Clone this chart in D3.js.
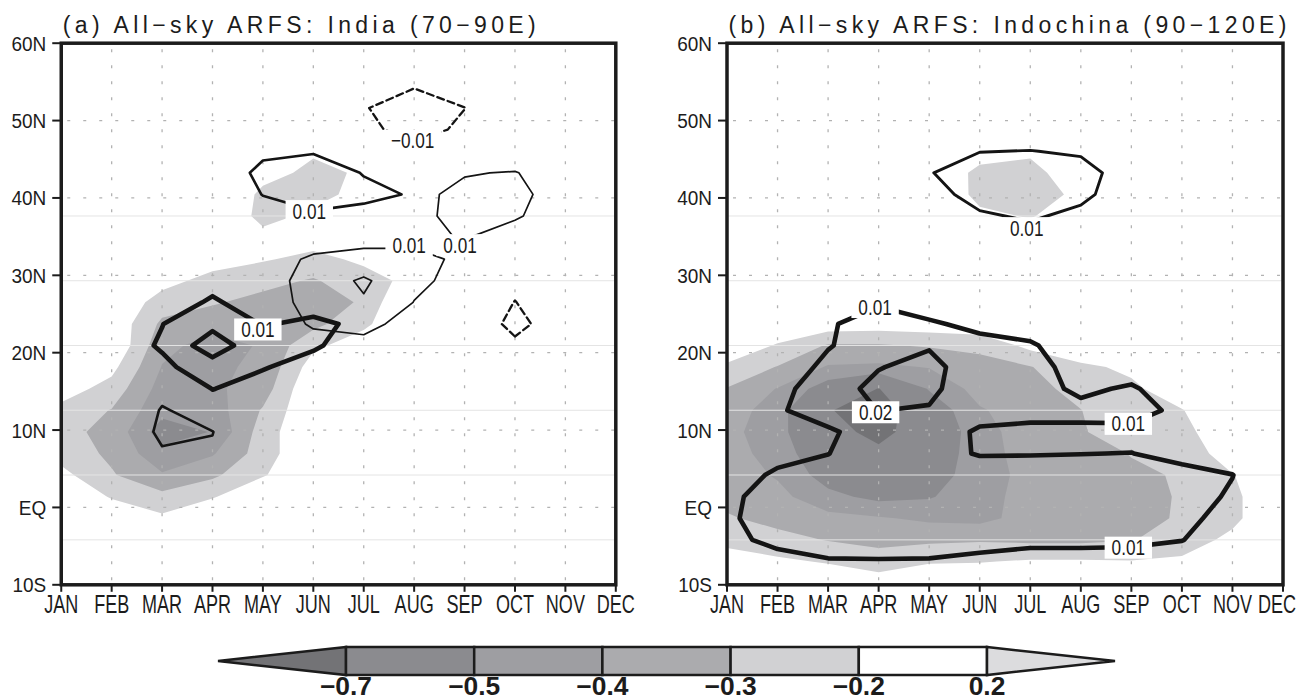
<!DOCTYPE html>
<html>
<head>
<meta charset="utf-8">
<title>All-sky ARFS</title>
<script src="https://cdn.jsdelivr.net/npm/d3@7"></script>
<style>
  body { margin: 0; background: #fff; }
  svg { display: block; }
  text { font-family: "Liberation Sans", "DejaVu Sans", sans-serif; fill: #1c1c1c; }
  .frame { fill: none; stroke: #1c1c1c; stroke-width: 3.5px; }
  .tick { stroke: #1c1c1c; stroke-width: 2px; }
  .dots { stroke: #b2b2b2; stroke-width: 1.3px; stroke-dasharray: 3 13; }
  .faint { stroke: #e4e4e4; stroke-width: 1px; }
  .cline { fill: none; stroke: #141414; stroke-linejoin: round; stroke-linecap: round; }
  .cbar { stroke: #1c1c1c; stroke-width: 2.5px; stroke-linejoin: miter; }
</style>
</head>
<body>
<script>
// ---- data ----
var months = ['JAN','FEB','MAR','APR','MAY','JUN','JUL','AUG','SEP','OCT','NOV','DEC'];
// grid latitudes, north to south (rows of every grid below)
var lats = [59.99, 57.20, 54.41, 51.62, 48.83, 46.04, 43.25, 40.46, 37.67, 34.88, 32.09, 29.30, 26.51,
            23.72, 20.93, 18.14, 15.35, 12.56, 9.77, 6.98, 4.19, 1.40, -1.40, -4.19, -6.98, -9.77];
var latTicks = [-10, 0, 10, 20, 30, 40, 50, 60];
var latTickLabels = ['10S', 'EQ', '10N', '20N', '30N', '40N', '50N', '60N'];
var faintLats = [37.67, 29.30, 20.93, 12.56, 4.19, -4.19];
var shadeLevels = [-0.7, -0.5, -0.4, -0.3, -0.2, 0.2];
var shadeColors = ['#737376', '#8b8b8f', '#9e9ea2', '#ababae', '#d1d1d3', '#ffffff', '#dcdcde'];
var lineLevels = [-1, 1, 2];   // contour field in units of 0.01
var titles = ['(a) All\u2212sky ARFS: India (70\u221290E)', '(b) All\u2212sky ARFS: Indochina (90\u2212120E)'];

// shaded field, panel a
var shadeA = [
  [-.1,-.1,-.1,-.1,-.1,-.1,-.1,-.1,-.1,-.1,-.1,-.1],
  [-.1,-.1,-.1,-.1,-.1,-.1,-.1,-.1,-.1,-.1,-.1,-.1],
  [-.1,-.1,-.1,-.1,-.1,-.1,-.1,-.1,-.1,-.1,-.1,-.1],
  [-.1,-.1,-.1,-.1,-.1,-.1,-.1,-.1,-.1,-.1,-.1,-.1],
  [-.1,-.1,-.1,-.1,-.1,-.1,-.1,-.1,-.1,-.1,-.1,-.1],
  [-.1,-.1,-.1,-.1,-.1,-.19,-.12,-.1,-.1,-.1,-.1,-.1],
  [-.1,-.1,-.1,-.1,-.17,-.22,-.19,-.1,-.1,-.1,-.1,-.1],
  [-.1,-.1,-.1,-.1,-.22,-.23,-.17,-.1,-.1,-.1,-.1,-.1],
  [-.1,-.1,-.1,-.1,-.23,-.18,-.1,-.1,-.1,-.1,-.1,-.1],
  [-.1,-.1,-.1,-.1,-.17,-.15,-.1,-.1,-.1,-.1,-.1,-.1],
  [-.1,-.1,-.1,-.15,-.19,-.23,-.18,-.13,-.1,-.1,-.1,-.1],
  [-.1,-.1,-.16,-.24,-.27,-.31,-.24,-.17,-.1,-.1,-.1,-.1],
  [-.1,-.1,-.25,-.29,-.33,-.36,-.285,-.05,-.1,-.1,-.1,-.1],
  [-.1,-.12,-.32,-.36,-.38,-.33,-.22,-.1,-.1,-.1,-.1,-.1],
  [-.1,-.1,-.37,-.44,-.39,-.22,-.15,-.1,-.1,-.1,-.1,-.1],
  [-.1,-.17,-.405,-.42,-.38,-.15,-.1,-.1,-.1,-.1,-.1,-.1],
  [-.15,-.24,-.44,-.42,-.35,-.1,-.1,-.1,-.1,-.1,-.1,-.1],
  [-.23,-.305,-.47,-.45,-.29,-.1,-.1,-.1,-.1,-.1,-.1,-.1],
  [-.27,-.33,-.55,-.495,-.25,-.1,-.1,-.1,-.1,-.1,-.1,-.1],
  [-.24,-.32,-.47,-.41,-.25,-.1,-.1,-.1,-.1,-.1,-.1,-.1],
  [-.17,-.29,-.39,-.32,-.21,-.1,-.1,-.1,-.1,-.1,-.1,-.1],
  [-.1,-.21,-.27,-.21,-.1,-.1,-.1,-.1,-.1,-.1,-.1,-.1],
  [-.1,-.12,-.18,-.1,-.1,-.1,-.1,-.1,-.1,-.1,-.1,-.1],
  [-.1,-.1,-.1,-.1,-.1,-.1,-.1,-.1,-.1,-.1,-.1,-.1],
  [-.1,-.1,-.1,-.1,-.1,-.1,-.1,-.1,-.1,-.1,-.1,-.1],
  [-.1,-.1,-.1,-.1,-.1,-.1,-.1,-.1,-.1,-.1,-.1,-.1]
];

// shaded field, panel b
var shadeB = [
  [-.1,-.1,-.1,-.1,-.1,-.1,-.1,-.1,-.1,-.1,-.1,-.1],
  [-.1,-.1,-.1,-.1,-.1,-.1,-.1,-.1,-.1,-.1,-.1,-.1],
  [-.1,-.1,-.1,-.1,-.1,-.1,-.1,-.1,-.1,-.1,-.1,-.1],
  [-.1,-.1,-.1,-.1,-.1,-.1,-.1,-.1,-.1,-.1,-.1,-.1],
  [-.1,-.1,-.1,-.1,-.1,-.1,-.1,-.1,-.1,-.1,-.1,-.1],
  [-.1,-.1,-.1,-.1,-.1,-.15,-.18,-.1,-.1,-.1,-.1,-.1],
  [-.1,-.1,-.1,-.1,-.1,-.23,-.24,-.12,-.1,-.1,-.1,-.1],
  [-.1,-.1,-.1,-.1,-.06,-.24,-.26,-.17,-.1,-.1,-.1,-.1],
  [-.1,-.1,-.1,-.1,-.1,-.17,-.21,-.12,-.1,-.1,-.1,-.1],
  [-.1,-.1,-.1,-.1,-.1,-.1,-.12,-.1,-.1,-.1,-.1,-.1],
  [-.1,-.1,-.1,-.1,-.1,-.1,-.1,-.1,-.1,-.1,-.1,-.1],
  [-.1,-.1,-.1,-.1,-.1,-.1,-.1,-.1,-.1,-.1,-.1,-.1],
  [-.1,-.1,-.1,-.1,-.1,-.1,-.1,-.1,-.1,-.1,-.1,-.1],
  [-.1,-.12,-.14,-.15,-.14,-.12,-.08,-.1,-.1,-.1,-.1,-.1],
  [-.12,-.21,-.31,-.31,-.29,-.28,-.17,-.12,-.1,-.1,-.1,-.1],
  [-.22,-.305,-.41,-.42,-.395,-.33,-.305,-.22,-.18,-.1,-.1,-.1],
  [-.305,-.405,-.56,-.705,-.49,-.36,-.33,-.27,-.22,-.14,-.1,-.1],
  [-.35,-.45,-.69,-.78,-.58,-.41,-.35,-.302,-.23,-.205,-.1,-.1],
  [-.37,-.46,-.65,-.74,-.62,-.43,-.36,-.31,-.24,-.24,-.1,-.1],
  [-.36,-.44,-.60,-.67,-.60,-.43,-.37,-.35,-.295,-.27,-.14,-.1],
  [-.35,-.41,-.55,-.62,-.57,-.43,-.38,-.36,-.32,-.29,-.205,-.1],
  [-.33,-.37,-.47,-.53,-.51,-.43,-.37,-.36,-.34,-.29,-.23,-.08],
  [-.29,-.33,-.37,-.39,-.42,-.43,-.36,-.35,-.33,-.29,-.23,-.08],
  [-.23,-.27,-.305,-.33,-.32,-.31,-.32,-.32,-.305,-.26,-.17,-.1],
  [-.15,-.18,-.21,-.25,-.21,-.205,-.19,-.19,-.195,-.18,-.1,-.1],
  [-.1,-.12,-.12,-.15,-.12,-.12,-.1,-.1,-.1,-.1,-.1,-.1]
];

// contoured fields (x0.01): thin, medium and thick lines of panel a
var thinA = [
  [0,0,0,0,0,0,0,0,0,0,0,0],
  [0,0,0,0,0,0,0,0,0,0,0,0],
  [0,0,0,0,0,0,0,0,0,0,0,0],
  [0,0,0,0,0,0,0,0,0,0,0,0],
  [0,0,0,0,0,0,0,0,0,0,0,0],
  [0,0,0,0,0,0,0,0,.3,.3,0,0],
  [0,0,0,0,0,0,0,.3,.95,1.05,.4,0],
  [0,0,0,0,0,0,0,.8,1.2,1.15,.73,0],
  [0,0,0,0,0,0,0,.75,1.3,1.1,.5,0],
  [0,0,0,0,0,.5,.7,.85,1.04,.6,0,0],
  [0,0,0,0,.55,1.15,1.3,1.15,.9,0,0,0],
  [0,0,0,0,.55,1.4,2.15,1.2,.7,0,0,0],
  [0,0,0,0,.4,1.4,1.9,.98,.3,0,0,0],
  [0,0,0,0,.2,1.15,1.3,.6,0,0,0,0],
  [0,0,0,0,0,.5,.7,0,0,0,0,0],
  [0,0,0,0,0,0,0,0,0,0,0,0],
  [0,0,0,0,0,0,0,0,0,0,0,0],
  [0,0,0,0,0,0,0,0,0,0,0,0],
  [0,0,0,0,0,0,0,0,0,0,0,0],
  [0,0,0,0,0,0,0,0,0,0,0,0],
  [0,0,0,0,0,0,0,0,0,0,0,0],
  [0,0,0,0,0,0,0,0,0,0,0,0],
  [0,0,0,0,0,0,0,0,0,0,0,0],
  [0,0,0,0,0,0,0,0,0,0,0,0],
  [0,0,0,0,0,0,0,0,0,0,0,0],
  [0,0,0,0,0,0,0,0,0,0,0,0]
];
var midA = [
  [0,0,0,0,0,0,0,0,0,0,0,0],
  [0,0,0,0,0,0,0,0,0,0,0,0],
  [0,0,0,0,0,0,0,-.95,-.7,0,0,0],
  [0,0,0,0,0,0,-.94,-1.5,-1.01,-.5,0,0],
  [0,0,0,0,0,0,-.8,-1.3,-.85,0,0,0],
  [0,0,0,0,.85,.95,.6,-.68,0,0,0,0],
  [0,0,0,.43,1.2,1.35,.97,.6,0,0,0,0],
  [0,0,0,.4,1.02,1.3,1.15,.95,0,0,0,0],
  [0,0,0,0,.7,.9,.8,.6,0,0,0,0],
  [0,0,0,0,0,0,0,0,0,0,0,0],
  [0,0,0,0,0,0,0,0,0,0,0,0],
  [0,0,0,0,0,0,0,0,0,-.8,0,0],
  [0,0,0,0,0,0,0,0,-.3,-1.02,-.4,0],
  [0,0,0,0,0,0,0,0,-.3,-1.25,-.47,0],
  [0,0,0,0,0,0,0,0,0,-.82,0,0],
  [0,0,0,0,0,0,0,0,0,0,0,0],
  [0,0,.6,0,0,0,0,0,0,0,0,0],
  [0,-.5,1.1,.5,0,0,0,0,0,0,0,0],
  [0,-.9,1.4,1.02,0,0,0,0,0,0,0,0],
  [0,-.5,.8,.9,0,0,0,0,0,0,0,0],
  [0,0,0,0,0,0,0,0,0,0,0,0],
  [0,0,0,0,0,0,0,0,0,0,0,0],
  [0,0,0,0,0,0,0,0,0,0,0,0],
  [0,0,0,0,0,0,0,0,0,0,0,0],
  [0,0,0,0,0,0,0,0,0,0,0,0],
  [0,0,0,0,0,0,0,0,0,0,0,0]
];
var thickA = [
  [0,0,0,0,0,0,0,0,0,0,0,0],
  [0,0,0,0,0,0,0,0,0,0,0,0],
  [0,0,0,0,0,0,0,0,0,0,0,0],
  [0,0,0,0,0,0,0,0,0,0,0,0],
  [0,0,0,0,0,0,0,0,0,0,0,0],
  [0,0,0,0,0,0,0,0,0,0,0,0],
  [0,0,0,0,0,0,0,0,0,0,0,0],
  [0,0,0,0,0,0,0,0,0,0,0,0],
  [0,0,0,0,0,0,0,0,0,0,0,0],
  [0,0,0,0,0,0,0,0,0,0,0,0],
  [0,0,0,0,0,0,0,0,0,0,0,0],
  [0,0,0,.75,0,0,0,0,0,0,0,0],
  [0,0,.6,1.1,.6,.7,0,0,0,0,0,0],
  [0,0,.98,1.7,.95,1.15,.85,0,0,0,0,0],
  [0,.5,1.1,2.6,1.2,1.1,.6,0,0,0,0,0],
  [0,0,.8,1.5,1.05,.7,0,0,0,0,0,0],
  [0,0,0,1.02,.7,0,0,0,0,0,0,0],
  [0,0,0,.6,0,0,0,0,0,0,0,0],
  [0,0,0,0,0,0,0,0,0,0,0,0],
  [0,0,0,0,0,0,0,0,0,0,0,0],
  [0,0,0,0,0,0,0,0,0,0,0,0],
  [0,0,0,0,0,0,0,0,0,0,0,0],
  [0,0,0,0,0,0,0,0,0,0,0,0],
  [0,0,0,0,0,0,0,0,0,0,0,0],
  [0,0,0,0,0,0,0,0,0,0,0,0],
  [0,0,0,0,0,0,0,0,0,0,0,0]
];

// contoured fields (x0.01): medium and thick lines of panel b
var midB = [
  [0,0,0,0,0,0,0,0,0,0,0,0],
  [0,0,0,0,0,0,0,0,0,0,0,0],
  [0,0,0,0,0,0,0,0,0,0,0,0],
  [0,0,0,0,0,0,0,0,0,0,0,0],
  [0,0,0,0,0,0,.5,0,0,0,0,0],
  [0,0,0,0,.5,.98,1.02,.9,0,0,0,0],
  [0,0,0,0,.96,1.4,1.5,1.3,.6,0,0,0],
  [0,0,0,0,.7,1.3,1.5,1.2,.5,0,0,0],
  [0,0,0,0,0,.9,1.1,.8,0,0,0,0],
  [0,0,0,0,0,0,.7,0,0,0,0,0],
  [0,0,0,0,0,0,0,0,0,0,0,0],
  [0,0,0,0,0,0,0,0,0,0,0,0],
  [0,0,0,0,0,0,0,0,0,0,0,0],
  [0,0,0,0,0,0,0,0,0,0,0,0],
  [0,0,0,0,0,0,0,0,0,0,0,0],
  [0,0,0,0,0,0,0,0,0,0,0,0],
  [0,0,0,0,0,0,0,0,0,0,0,0],
  [0,0,0,0,0,0,0,0,0,0,0,0],
  [0,0,0,0,0,0,0,0,0,0,0,0],
  [0,0,0,0,0,0,0,0,0,0,0,0],
  [0,0,0,0,0,0,0,0,0,0,0,0],
  [0,0,0,0,0,0,0,0,0,0,0,0],
  [0,0,0,0,0,0,0,0,0,0,0,0],
  [0,0,0,0,0,0,0,0,0,0,0,0],
  [0,0,0,0,0,0,0,0,0,0,0,0],
  [0,0,0,0,0,0,0,0,0,0,0,0]
];
var thickB = [
  [0,0,0,0,0,0,0,0,0,0,0,0],
  [0,0,0,0,0,0,0,0,0,0,0,0],
  [0,0,0,0,0,0,0,0,0,0,0,0],
  [0,0,0,0,0,0,0,0,0,0,0,0],
  [0,0,0,0,0,0,0,0,0,0,0,0],
  [0,0,0,0,0,0,0,0,0,0,0,0],
  [0,0,0,0,0,0,0,0,0,0,0,0],
  [0,0,0,0,0,0,0,0,0,0,0,0],
  [0,0,0,0,0,0,0,0,0,0,0,0],
  [0,0,0,0,0,0,0,0,0,0,0,0],
  [0,0,0,0,0,0,0,0,0,0,0,0],
  [0,0,0,.4,0,0,0,0,0,0,0,0],
  [0,0,.3,.85,.6,.4,0,0,0,0,0,0],
  [0,0,.85,1.6,1.1,.8,.6,0,0,0,0,0],
  [0,0,.9,1.8,1.9,1.25,1.1,.5,0,0,0,0],
  [0,0,1.4,1.95,2.35,1.3,1.25,.73,.6,0,0,0],
  [0,.73,1.5,2.3,2.3,1.1,1.3,.85,1.1,.5,0,0],
  [0,.88,1.5,2.02,1.9,1.15,1.2,1.2,1.3,.8,0,0],
  [0,.6,.85,1.5,1.2,.95,.85,.85,.8,.6,0,0],
  [.5,.8,.98,1.6,1.2,.96,.98,.99,1.01,.8,.7,0],
  [.7,1.1,1.4,1.7,1.5,1.3,1.2,1.25,1.2,1.2,1.01,.5],
  [.85,1.3,1.45,1.7,1.55,1.3,1.3,1.3,1.25,1.2,.94,.4],
  [.9,1.3,1.45,1.6,1.5,1.3,1.3,1.3,1.25,1.15,.79,.3],
  [.85,1.15,1.3,1.4,1.3,1.15,1.15,1.15,1.1,1.02,.6,0],
  [.6,.8,.95,.95,.95,.9,.75,.75,.8,.6,.4,0],
  [0,0,.5,.6,.6,.5,.5,.5,.5,0,0,0]
];

// contour labels: panel, month index, latitude, level (x0.01)
var contourLabels = [
  {panel: 0, month: 4.92, lat: 38.3, level: 1},
  {panel: 0, month: 6.97, lat: 47.4, level: -1},
  {panel: 0, month: 6.90, lat: 33.9, level: 1},
  {panel: 0, month: 7.91, lat: 33.9, level: 1},
  {panel: 0, month: 3.90, lat: 23.0, level: 1},
  {panel: 1, month: 5.93, lat: 36.1, level: 1},
  {panel: 1, month: 2.93, lat: 25.9, level: 1},
  {panel: 1, month: 2.94, lat: 12.3, level: 2},
  {panel: 1, month: 7.94, lat: 10.8, level: 1},
  {panel: 1, month: 7.94, lat: -5.2, level: 1}
];

// ---- drawing ----
var W = 1299, H = 700;
var svg = d3.select('body').append('svg').attr('width', W).attr('height', H);
var y = d3.scaleLinear().domain([-10, 60]).range([584.8, 43.2]);
var latAt = d3.scaleLinear().domain([0, lats.length - 1]).range([lats[0], lats[lats.length - 1]]);
var fmtLine = d3.format('.2f'), fmtBar = d3.format('.1f');
var nx = months.length, ny = lats.length;

// text squeezed like the narrow plotting font of the original
function narrow(sel, str, px, py, size, sx, sy, anchor) {
  return sel.append('text')
    .attr('transform', 'translate(' + px + ',' + py + ') scale(' + sx + ',' + sy + ')')
    .attr('text-anchor', anchor).attr('font-size', size).text(str);
}

var panels = [
  {title: titles[0], x0: 61.25, x1: 615.8, titleLen: 473, shade: shadeA,
   lines: [[thinA, 1.7], [midA, 2.6], [thickA, 4.6]]},
  {title: titles[1], x0: 727, x1: 1283, titleLen: 558, shade: shadeB,
   lines: [[midB, 2.9], [thickB, 4.6]]}
];

panels.forEach(function(p, pi) {
  var x = d3.scaleLinear().domain([0, nx - 1]).range([p.x0, p.x1]);
  var proj = d3.geoTransform({point: function(gx, gy) {
    this.stream.point(x(gx - 0.5), y(latAt(gy - 0.5)));
  }});
  var path = d3.geoPath(proj);
  var contours = d3.contours().size([nx, ny]);

  svg.append('clipPath').attr('id', 'clip' + pi).append('rect')
    .attr('x', x(0)).attr('y', y(60)).attr('width', x(nx - 1) - x(0)).attr('height', y(-10) - y(60));
  var g = svg.append('g');
  var inner = g.append('g').attr('clip-path', 'url(#clip' + pi + ')');

  // shading: nested regions below each negative level, then above 0.2
  var flat = p.shade.flat();
  var neg = flat.map(function(v) { return -v; });
  for (var i = 4; i >= 0; i--) {
    var mp = contours.thresholds([-shadeLevels[i]])(neg)[0];
    inner.append('path').attr('d', path(mp)).attr('fill', shadeColors[i]);
  }
  inner.append('path').attr('d', path(contours.thresholds([shadeLevels[5]])(flat)[0]))
    .attr('fill', shadeColors[6]);

  // faint grid rows and dotted grid
  inner.selectAll('.faint').data(faintLats).enter().append('line').attr('class', 'faint')
    .attr('x1', x(0)).attr('x2', x(nx - 1)).attr('y1', function(d) { return y(d); }).attr('y2', function(d) { return y(d); });
  inner.selectAll('.hd').data(latTicks.slice(1, -1)).enter().append('line').attr('class', 'dots')
    .attr('x1', x(0) + 6).attr('x2', x(nx - 1)).attr('y1', function(d) { return y(d); }).attr('y2', function(d) { return y(d); });
  inner.selectAll('.vd').data(d3.range(1, nx - 1)).enter().append('line').attr('class', 'dots')
    .attr('x1', function(d) { return x(d); }).attr('x2', function(d) { return x(d); })
    .attr('y1', y(60) + 6).attr('y2', y(-10));

  // contour lines
  p.lines.forEach(function(ln) {
    var f = ln[0].flat();
    lineLevels.forEach(function(lev) {
      var mp = contours.thresholds([lev])(f)[0];
      if (!mp.coordinates.length) return;
      inner.append('path').attr('class', 'cline').attr('d', path(mp))
        .attr('stroke-width', lev < 0 ? Math.min(ln[1], 2.3) : ln[1])
        .attr('stroke-dasharray', lev < 0 ? '7 4' : null);
    });
  });

  // contour labels
  contourLabels.filter(function(d) { return d.panel === pi; }).forEach(function(d) {
    var s = fmtLine(d.level / 100), tl = 10.6 * s.length;
    var cx = x(d.month), cy = y(d.lat);
    g.append('rect').attr('x', cx - tl / 2 - 2.5).attr('y', cy - 11).attr('width', tl + 5).attr('height', 22)
      .attr('fill', '#fff');
    narrow(g, s, cx, cy + 7.6, 20, 0.86, 1.08, 'middle');
  });

  // frame and axes
  g.append('rect').attr('class', 'frame').attr('x', x(0)).attr('y', y(60))
    .attr('width', x(nx - 1) - x(0)).attr('height', y(-10) - y(60));
  g.selectAll('.lt').data(latTicks).enter().append('line').attr('class', 'tick')
    .attr('x1', x(0) - 9).attr('x2', x(0)).attr('y1', function(d) { return y(d); }).attr('y2', function(d) { return y(d); });
  latTicks.forEach(function(d, i) {
    narrow(g, latTickLabels[i], x(0) - 15, y(d) + 7.5, 19, 1, 1.1, 'end');
  });
  g.selectAll('.mt').data(months).enter().append('line').attr('class', 'tick')
    .attr('x1', function(d, i) { return x(i); }).attr('x2', function(d, i) { return x(i); })
    .attr('y1', y(-10)).attr('y2', y(-10) + 7);
  months.forEach(function(d, i) {
    narrow(g, d, Math.min(x(i), W - 22), 613, 22, 0.82, 1.15, 'middle');
  });
  g.append('text').attr('x', x(0) + 1.5).attr('y', 33).attr('font-size', 23)
    .attr('textLength', p.titleLen).attr('lengthAdjust', 'spacing').text(p.title);
});

// colour bar
var cbX = d3.scaleLinear().domain([0, shadeLevels.length - 1]).range([346, 987]);
var cbTop = 647, cbBot = 675, cbMid = 661, tri = 128;
var cb = svg.append('g');
cb.append('path').attr('class', 'cbar').attr('fill', shadeColors[0])
  .attr('d', 'M' + cbX(0) + ',' + cbTop + 'L' + (cbX(0) - tri) + ',' + cbMid + 'L' + cbX(0) + ',' + cbBot + 'Z');
d3.range(shadeLevels.length - 1).forEach(function(i) {
  cb.append('rect').attr('class', 'cbar').attr('fill', shadeColors[i + 1])
    .attr('x', cbX(i)).attr('y', cbTop).attr('width', cbX(i + 1) - cbX(i)).attr('height', cbBot - cbTop);
});
var last = shadeLevels.length - 1;
cb.append('path').attr('class', 'cbar').attr('fill', shadeColors[shadeColors.length - 1])
  .attr('d', 'M' + cbX(last) + ',' + cbTop + 'L' + (cbX(last) + tri) + ',' + cbMid + 'L' + cbX(last) + ',' + cbBot + 'Z');
shadeLevels.forEach(function(d, i) {
  narrow(cb, fmtBar(d), cbX(i), 695, 24, 1.1, 1.04, 'middle').attr('font-weight', 'bold');
});
</script>
</body>
</html>
